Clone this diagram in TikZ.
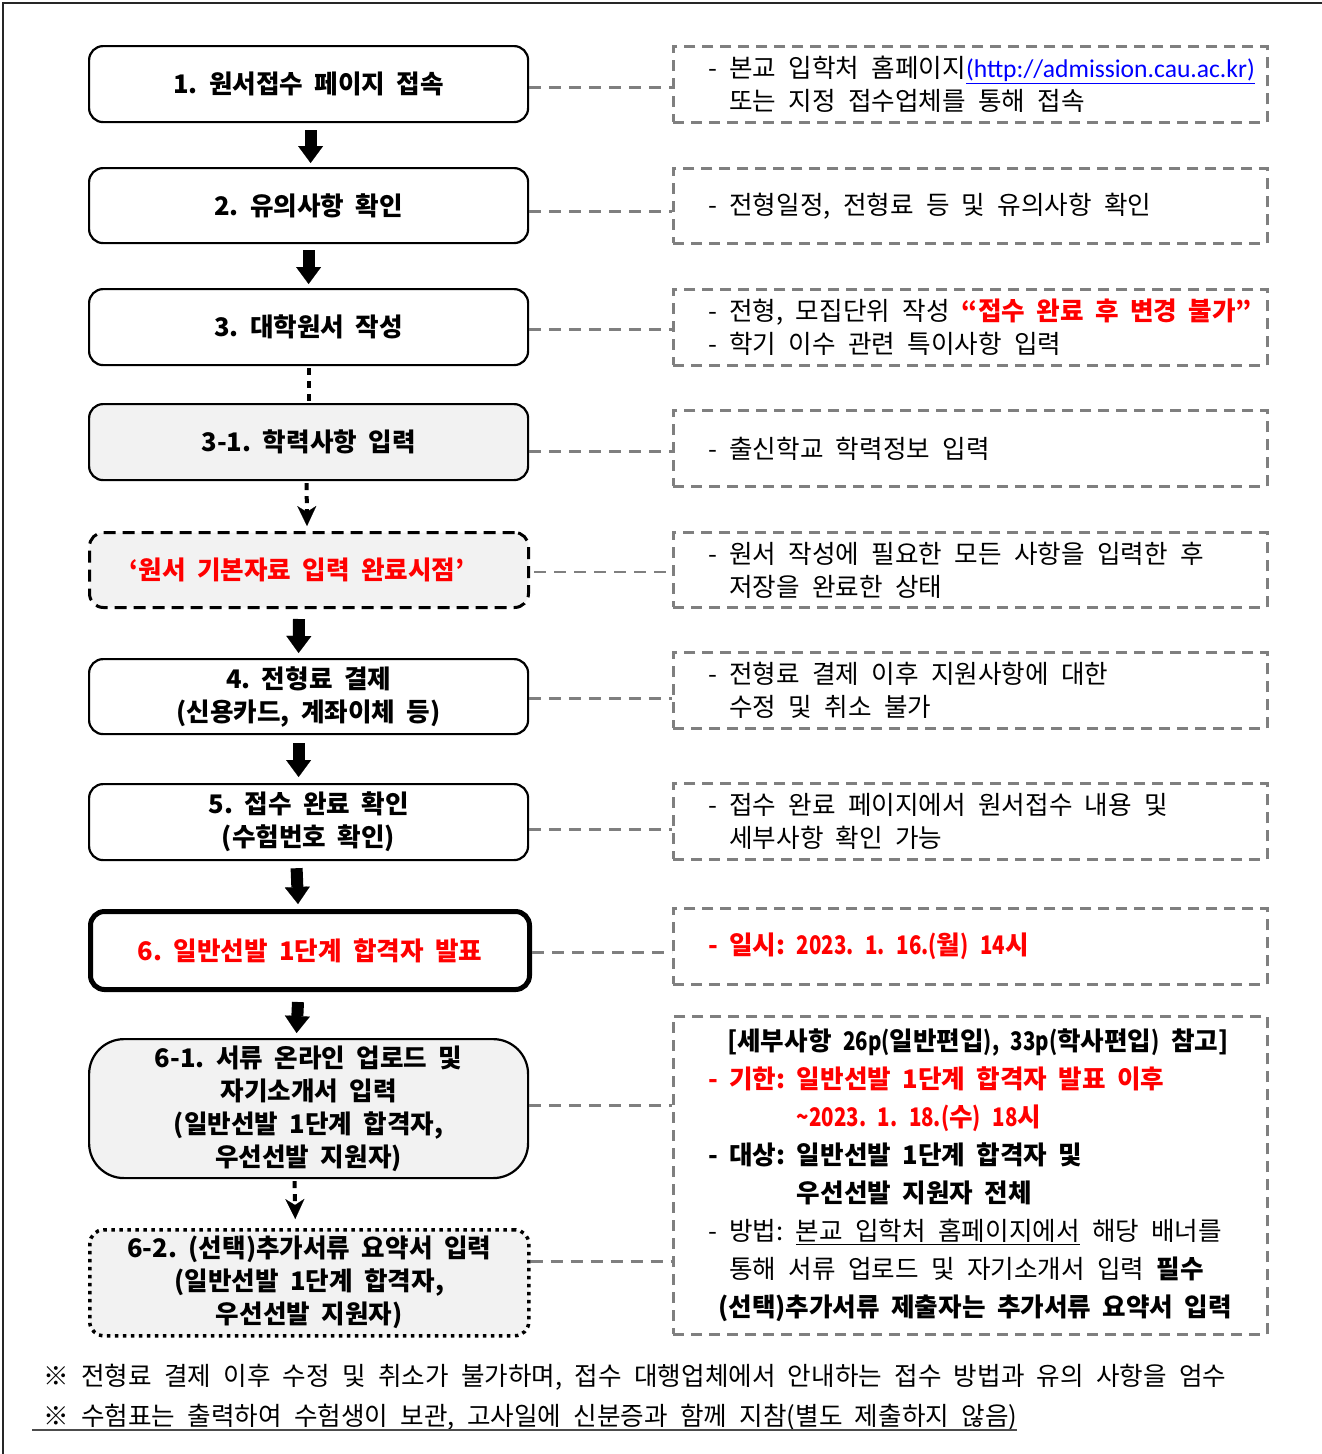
\documentclass[tikz,border=0pt]{standalone}
\usepackage{fontspec}
\setmainfont{Noto Sans CJK KR}[WordSpace=2.15, BoldFeatures={WordSpace=1.95}]
\newfontfamily\urlfont{Carlito}
\usetikzlibrary{arrows.meta,calc}
\definecolor{boxgray}{HTML}{F2F2F2}
\definecolor{linkgray}{HTML}{7F7F7F}
\definecolor{hotred}{HTML}{FF0000}
\definecolor{urlblue}{HTML}{0000FF}
\newcommand\dsh{\phantom{- }}
\newcommand\nb[1]{{\addfontfeature{FakeStretch=0.8}#1}}
\frenchspacing
\begin{document}
\begin{tikzpicture}[x=1pt,y=-1pt,
  stepbox/.style={draw=black, line width=2.2pt, rounded corners=14pt, minimum width=439pt, anchor=north west, inner sep=0pt, align=center, font=\frenchspacing\bfseries\fontsize{25.6}{33}\selectfont, fill=white},
  graybox/.style={stepbox, fill=boxgray},
  notebox/.style={draw=linkgray, line width=2.8pt, dash pattern=on 11pt off 7pt, minimum width=594pt, anchor=north west, inner sep=0pt},
  notetext/.style={anchor=west, align=left, inner sep=0pt, font=\frenchspacing\fontsize{25.6}{33}\selectfont},
  link/.style={draw=linkgray, line width=2.8pt, dash pattern=on 12pt off 8pt},
  blockarrow/.style={line width=12pt, -{Triangle[width=25pt,length=17pt,line width=0.1pt]}},
  dotline/.style={line width=4pt, dash pattern=on 7pt off 6pt},
  dotarrow/.style={dotline, -{Stealth[width=19pt,length=20pt,inset=6pt,line width=0.1pt]}},
  foot/.style={anchor=base west, inner sep=0pt, font=\frenchspacing\fontsize{25.6}{30}\selectfont}
]
\useasboundingbox (0,0) rectangle (1322,1454);
\draw[line width=1.5pt, black!85] (3,1454) -- (3,3) -- (1322,3);

% left step boxes
\node[stepbox, minimum height=76pt] (n1) at (88,45) {1. 원서접수 페이지 접속};
\node[stepbox, minimum height=75pt] (n2) at (88,167) {2. 유의사항 확인};
\node[stepbox, minimum height=76pt] (n3) at (88,288) {3. 대학원서 작성};
\node[graybox, minimum height=76pt] (n31) at (88,403) {3-1. 학력사항 입력};
\node[graybox, minimum height=75pt, line width=3pt, dash pattern=on 12pt off 7pt] (nE) at (88,531) {\color{hotred}‘원서 기본자료 입력 완료시점’\hspace*{24pt}};
\node[stepbox, minimum height=75pt] (n4) at (88,658) {4. 전형료 결제\\(신용카드, 계좌이체 등)};
\node[stepbox, minimum height=76pt] (n5) at (88,783) {5. 접수 완료 확인\\(수험번호 확인)};
\node[stepbox, minimum height=78pt, line width=5pt] (n6) at (88,909) {\color{hotred}6. 일반선발 1단계 합격자 발표};
\node[graybox, minimum height=139pt, rounded corners=35pt] (n61) at (88,1038) {6-1. 서류 온라인 업로드 및\\자기소개서 입력\\(일반선발 1단계 합격자,\\우선선발 지원자)};
\node[graybox, minimum height=106pt, line width=3.5pt, dash pattern=on 3.5pt off 4.5pt] (n62) at (88,1228) {6-2. (선택)추가서류 요약서 입력\\(일반선발 1단계 합격자,\\우선선발 지원자)};

% right note boxes
\node[notebox, minimum height=76pt] (r1) at (672,45) {};
\node[notebox, minimum height=75pt] (r2) at (672,167) {};
\node[notebox, minimum height=76pt] (r3) at (672,288) {};
\node[notebox, minimum height=76pt] (r31) at (672,409) {};
\node[notebox, minimum height=75pt] (rE) at (672,531) {};
\node[notebox, minimum height=76pt] (r4) at (672,651) {};
\node[notebox, minimum height=76pt] (r5) at (672,782) {};
\node[notebox, minimum height=76pt] (r6) at (672,907) {};
\node[notebox, minimum height=318pt] (r7) at (672,1015) {};

\node[notetext] (t1) at ($(r1.west)+(36,0)$) {- 본교 입학처 홈페이지{\urlfont\color{urlblue}\underline{(http://admission.cau.ac.kr)}}\\\dsh 또는 지정 접수업체를 통해 접속};
\node[notetext] (t2) at ($(r2.west)+(36,0)$) {- 전형일정, 전형료 등 및 유의사항 확인};
\node[notetext] (t3) at ($(r3.west)+(36,0)$) {- 전형, 모집단위 작성 {\bfseries\color{hotred}“접수 완료 후 변경 불가”}\\- 학기 이수 관련 특이사항 입력};
\node[notetext] (t31) at ($(r31.west)+(36,0)$) {- 출신학교 학력정보 입력};
\node[notetext] (tE) at ($(rE.west)+(36,0)$) {- 원서 작성에 필요한 모든 사항을 입력한 후\\\dsh 저장을 완료한 상태};
\node[notetext] (t4) at ($(r4.west)+(36,0)$) {- 전형료 결제 이후 지원사항에 대한\\\dsh 수정 및 취소 불가};
\node[notetext] (t5) at ($(r5.west)+(36,0)$) {- 접수 완료 페이지에서 원서접수 내용 및\\\dsh 세부사항 확인 가능};
\node[notetext] (t6) at ($(r6.west)+(36,0)$) {\bfseries\color{hotred}- 일시: \nb{2023.} \nb{1.} \nb{16.(}월\nb{)} \nb{14}시};
\node[notetext, font=\frenchspacing\fontsize{25.6}{38}\selectfont] (t7) at ($(r7.west)+(36,0)$) {%
{\bfseries\hspace*{19pt}[세부사항 \nb{26p(}일반편입\nb{),} \nb{33p(}학사편입\nb{)} 참고]}\\
{\bfseries\color{hotred}- 기한: 일반선발 1단계 합격자 발표 이후}\\
{\bfseries\color{hotred}\phantom{- 기한: }\nb{\textasciitilde 2023.} \nb{1.} \nb{18.(}수\nb{)} \nb{18}시}\\
{\bfseries - 대상: 일반선발 1단계 합격자 및}\\
{\bfseries\phantom{- 대상: }우선선발 지원자 전체}\\
- 방법: \underline{본교 입학처 홈페이지에서} 해당 배너를\\
\dsh 통해 서류 업로드 및 자기소개서 입력 {\bfseries 필수}\\
{\bfseries\hspace*{10pt}(선택)추가서류 제출자는 추가서류 요약서 입력}};

% dashed links
\draw[link] ($(n1.east)+(0,3)$) coordinate (c1) -- (c1 -| r1.west);
\draw[link] ($(n2.east)+(0,6)$) coordinate (c2) -- (c2 -| r2.west);
\draw[link] ($(n3.east)+(0,2)$) coordinate (c3) -- (c3 -| r3.west);
\draw[link] ($(n31.east)+(0,9)$) coordinate (c31) -- (c31 -| r31.west);
\draw[link] ($(nE.east)+(4,2)$) coordinate (cE) -- (cE -| rE.west);
\draw[link] ($(n4.east)+(0,2)$) coordinate (c4) -- (c4 -| r4.west);
\draw[link] ($(n5.east)+(0,7)$) coordinate (c5) -- (c5 -| r5.west);
\draw[link] ($(n6.east)+(0,2)$) coordinate (c6) -- (c6 -| r6.west);
\draw[link] ($(n61.east)+(0,-3)$) coordinate (c61) -- (c61 -| r7.west);
\draw[link] ($(n62.east)+(0,-21)$) coordinate (c62) -- (c62 -| r7.west);

% flow arrows
\draw[blockarrow] ($(n1.south)+(2,7)$) -- ($(n2.north)+(2,-4)$);
\draw[blockarrow] ($(n2.south)+(0,6)$) -- ($(n3.north)+(0,-4)$);
\draw[dotline] ($(n3.south)+(0,2)$) -- ($(n31.north)+(0,-2)$);
\draw[dotarrow] ($(n31.south)+(-2,2)$) -- ($(nE.north)+(-2,-5)$);
\draw[blockarrow] ($(nE.south)+(-10,10)$) -- ($(n4.north)+(-10,-5)$);
\draw[blockarrow] ($(n4.south)+(-10,8)$) -- ($(n5.north)+(-10,-6)$);
\draw[blockarrow] ($(n5.south)+(-12,7)$) -- ($(n6.north)+(-12,-5)$);
\draw[blockarrow] ($(n6.south)+(-12,10)$) -- ($(n61.north)+(-12,-5)$);
\draw[dotarrow] ($(n61.south)+(-14,2)$) -- ($(n62.north)+(-14,-9)$);

% footer
\node[foot] (f1) at (43,1385) {※ 전형료 결제 이후 수정 및 취소가 불가하며, 접수 대행업체에서 안내하는 접수 방법과 유의 사항을 엄수};
\node[foot] (f2) at (43,1425) {※ 수험표는 출력하여 수험생이 보관, 고사일에 신분증과 함께 지참(별도 제출하지 않음)};
\draw[line width=1.5pt, black!70] ($(f2.base west)+(-11,5)$) -- ($(f2.base east)+(0,5)$);
\end{tikzpicture}
\end{document}
